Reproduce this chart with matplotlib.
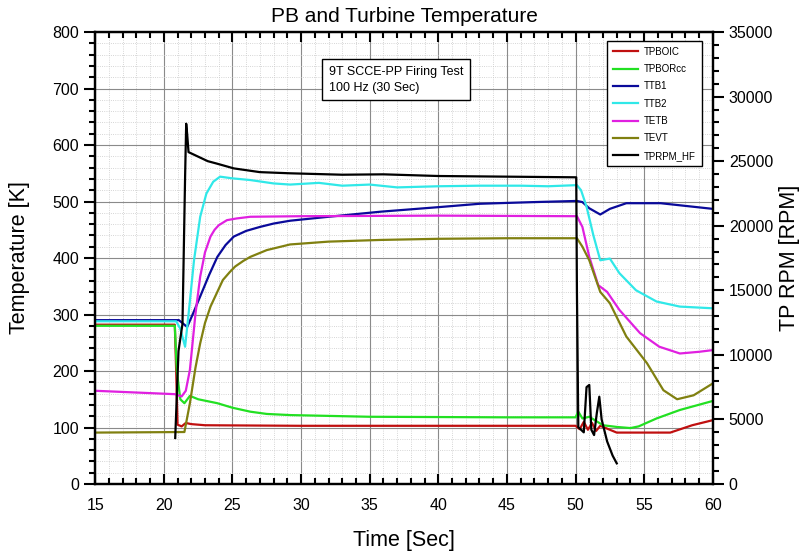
import matplotlib
matplotlib.use('Agg')
import matplotlib.pyplot as plt
from matplotlib.ticker import MultipleLocator

plt.rcParams['font.family'] = ['Liberation Sans', 'DejaVu Sans']

# данные: время [с] и значения
t_boic = [15, 20.8, 20.9, 21.0, 21.3, 21.6, 22.0, 23, 30, 40, 50.0, 50.3, 50.6, 50.9, 51.2,
          51.5, 51.8, 52.3, 53.0, 56.9, 58.5, 60]
v_boic = [282, 282, 200, 105, 102, 108, 106, 104, 103, 103, 103, 97, 110, 96, 108,
          94, 103, 98, 91, 91, 104, 113]

t_borcc = [15, 20.8, 20.95, 21.2, 21.5, 21.9, 22.5, 23.9, 25, 26.3, 27.5, 29.2, 35, 45, 50.0,
           50.2, 50.5, 51, 52, 53, 54.0, 54.6, 55.9, 57.6, 60]
v_borcc = [280, 280, 200, 150, 143, 156, 150, 143, 135, 128, 124, 122, 119, 118, 118,
           128, 116, 119, 104, 101, 99, 102, 116, 131, 147]

t_ttb1 = [15, 21.1, 21.4, 21.7, 22.1, 22.65, 23.3, 23.9, 24.5, 25.1, 26, 27.0, 28, 29.2, 32,
          35.8, 40, 43, 47, 50.1, 50.5, 51.0, 51.8, 52.5, 53.7, 56.2, 60]
v_ttb1 = [290, 290, 284, 278, 300, 332, 370, 402, 423, 438, 448, 455, 461, 466, 473,
          482, 490, 496, 499, 501, 499, 488, 477, 487, 497, 497, 487]

t_ttb2 = [15, 20.9, 21.2, 21.55, 21.8, 22.2, 22.65, 23.1, 23.6, 24.1, 25, 26.3, 28, 29.2, 31.3,
          33, 35, 37, 40, 43, 46, 48, 50.1, 50.4, 50.8, 51.3, 51.8, 52.5, 53.2, 54.4, 55.9,
          57.6, 60]
v_ttb2 = [288, 288, 275, 243, 300, 396, 473, 514, 535, 544, 541, 538, 532, 530, 533,
          528, 530, 525, 527, 528, 528, 527, 529, 520, 491, 440, 396, 399, 373, 343, 323,
          314, 311]

t_tetb = [15, 20.8, 21.3, 21.6, 21.9, 22.3, 22.65, 23.0, 23.4, 23.7, 24.0, 24.6, 25.3, 26.3,
          30, 40, 50.1, 50.5, 51.0, 51.65, 52.3, 53.2, 54.7, 56.1, 57.6, 59, 60]
v_tetb = [165, 159, 155, 165, 202, 300, 367, 410, 438, 450, 458, 467, 470, 473,
          474, 475, 474, 455, 402, 352, 340, 308, 267, 243, 231, 234, 237]

t_tevt = [15, 21.5, 21.9, 22.3, 22.65, 23.0, 23.4, 24.3, 24.8, 25.2, 25.8, 26.3, 27.5, 29.2,
          32, 35.8, 40, 45, 50.1, 50.5, 51.0, 51.8, 52.5, 53.7, 55.2, 56.4, 57.4, 58.6, 60]
v_tevt = [91, 92, 143, 205, 249, 285, 314, 361, 375, 385, 395, 402, 414, 424,
          429, 432, 434, 435, 435, 420, 396, 340, 320, 261, 214, 166, 150, 157, 178]

t_rpm = [20.83, 21.07, 21.36, 21.55, 21.63, 21.7, 21.8, 22.4, 23.2, 23.9, 25.1, 27, 29.2, 33,
         36, 40, 45, 50.05, 50.1, 50.2, 50.6, 50.8, 51.0, 51.15, 51.35, 51.55, 51.73, 51.9,
         52.3, 52.7, 53.0]
v_rpm = [3560, 10300, 12400, 23800, 27900, 27100, 25700, 25400, 25000, 24800, 24440, 24150,
         24060, 23950, 23980, 23850, 23800, 23750, 15000, 4400, 4000, 7500, 7670, 4200,
         3790, 5500, 6760, 5000, 3300, 2200, 1600]

fig, ax = plt.subplots(figsize=(8, 5.56), dpi=100)
fig.subplots_adjust(left=0.119, right=0.891, top=0.9424, bottom=0.1295)
ax2 = ax.twinx()

lw = 1.6
h = []
h += ax.plot(t_boic, v_boic, c='#c01010', lw=lw, label='TPBOIC')
h += ax.plot(t_borcc, v_borcc, c='#22e022', lw=lw, label='TPBORcc')
h += ax.plot(t_ttb1, v_ttb1, c='#0a0a9a', lw=lw, label='TTB1')
h += ax.plot(t_ttb2, v_ttb2, c='#30e8e8', lw=lw, label='TTB2')
h += ax.plot(t_tetb, v_tetb, c='#e020e0', lw=lw, label='TETB')
h += ax.plot(t_tevt, v_tevt, c='#808010', lw=lw, label='TEVT')
h += ax2.plot(t_rpm, v_rpm, c='black', lw=lw, label='TPRPM_HF')

# оси
ax.set_xlim(15, 60)
ax.set_ylim(0, 800)
ax2.set_ylim(0, 35000)
ax.xaxis.set_major_locator(MultipleLocator(5))
ax.xaxis.set_minor_locator(MultipleLocator(1))
ax.yaxis.set_major_locator(MultipleLocator(100))
ax.yaxis.set_minor_locator(MultipleLocator(20))
ax2.yaxis.set_major_locator(MultipleLocator(5000))
ax2.yaxis.set_minor_locator(MultipleLocator(1000))

ax.grid(which='major', color='#8a8a8a', lw=0.8, ls='-')
ax.grid(which='minor', color='#c8c8c8', lw=0.6, ls=':')
ax.set_axisbelow(True)

ax.tick_params(axis='x', which='both', direction='in', top=True, width=1.5, labelsize=11.5, pad=10)
ax.tick_params(axis='x', which='major', length=7)
ax.tick_params(axis='x', which='minor', length=4)
ax.tick_params(axis='y', which='both', direction='out', width=1.5, labelsize=11.5)
ax.tick_params(axis='y', which='major', length=8)
ax.tick_params(axis='y', which='minor', length=4)
ax2.tick_params(axis='y', which='both', direction='out', width=1.5, labelsize=11.5)
ax2.tick_params(axis='y', which='major', length=8)
ax2.tick_params(axis='y', which='minor', length=4)

for a in (ax, ax2):
    for s in a.spines.values():
        s.set_linewidth(1.6)

ax.set_title('PB and Turbine Temperature', fontsize=15, pad=7)
ax.set_xlabel('Time [Sec]', fontsize=15.5, labelpad=12)
ax.set_ylabel('Temperature [K]', fontsize=15.5, labelpad=16)
ax2.set_ylabel('TP RPM [RPM]', fontsize=15.5, labelpad=4)

leg = ax2.legend(handles=h, loc='upper right', bbox_to_anchor=(0.982, 0.98), fontsize=7,
                 frameon=True, fancybox=False, edgecolor='black', framealpha=1,
                 handlelength=2.6, labelspacing=0.75, borderpad=0.6, handletextpad=0.6,
                 borderaxespad=0)
leg.get_frame().set_linewidth(1.0)

ax2.text(0.378, 0.894, '9T SCCE-PP Firing Test\n100 Hz (30 Sec)', transform=ax2.transAxes,
         fontsize=9, va='center', ha='left', linespacing=1.35,
         bbox=dict(boxstyle='square,pad=0.55', fc='white', ec='black', lw=1.0))

fig.savefig('out.png', dpi=100)
